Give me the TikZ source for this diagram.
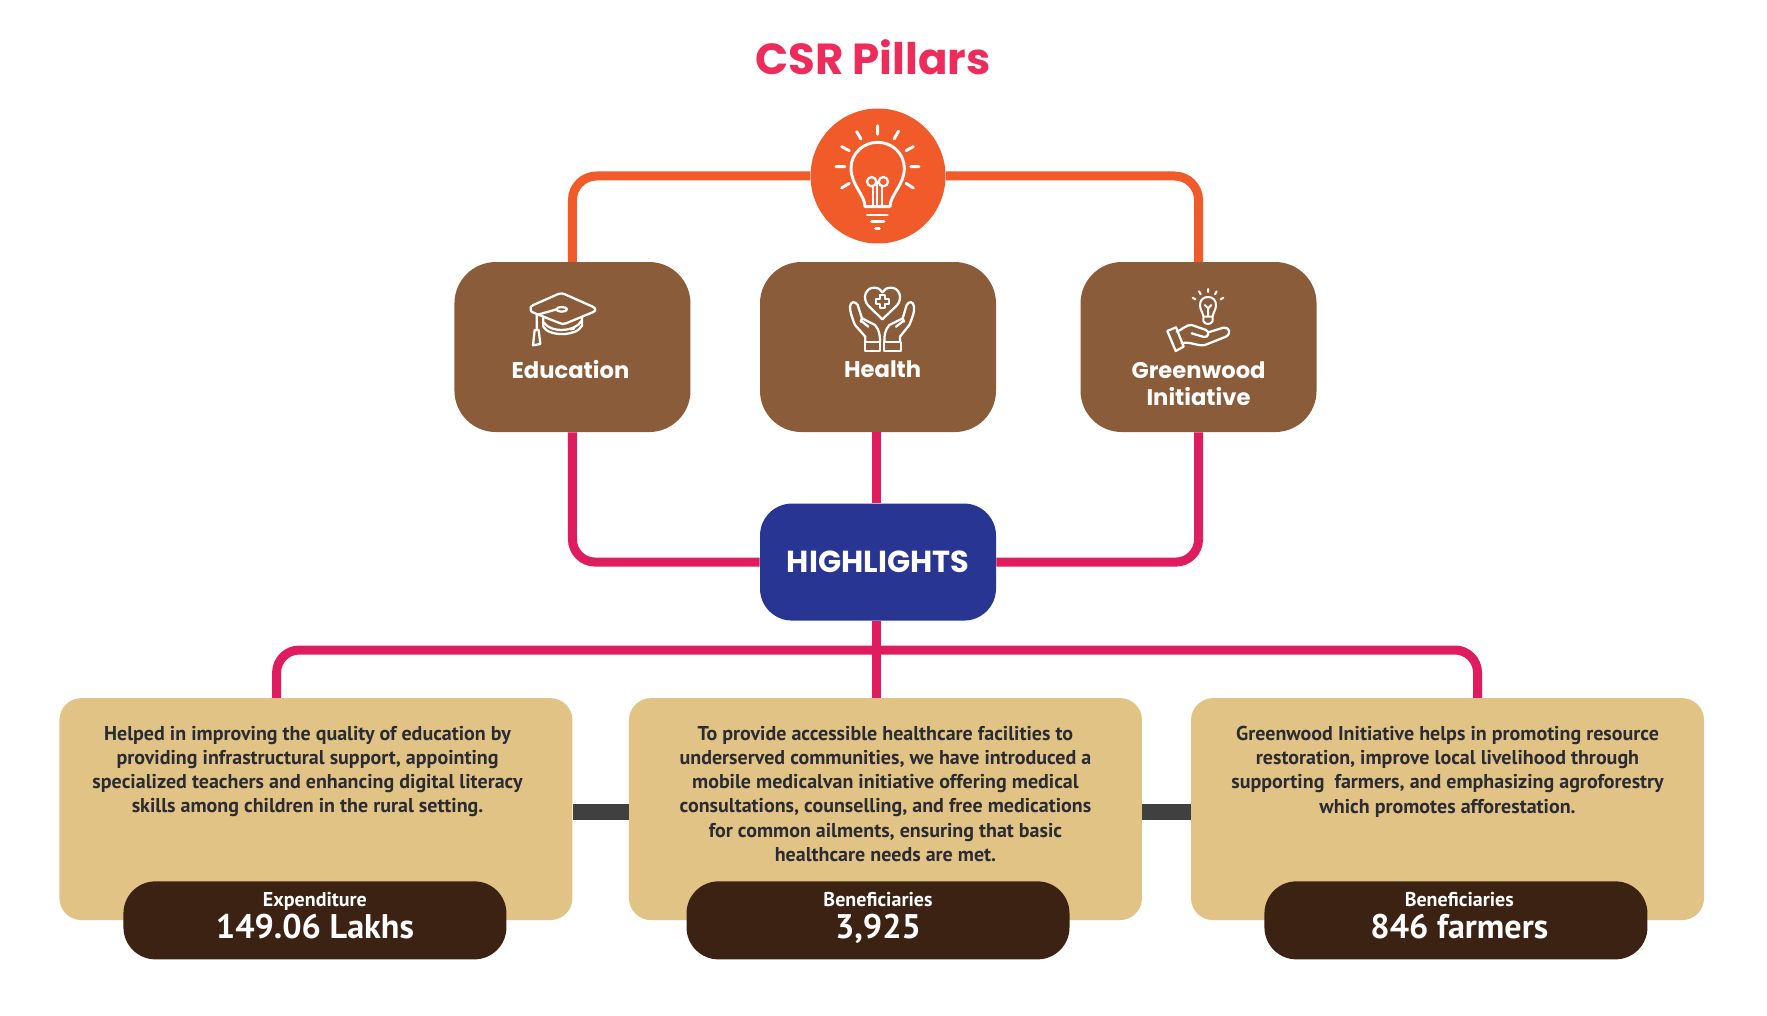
\documentclass[tikz,border=0pt]{standalone}
\usepackage{fontspec}
\setmainfont{PT Sans}
\newfontfamily\headfont{Poppins}
\usepackage{xcolor}
\usepackage{tikz}
\usetikzlibrary{positioning,calc}
\definecolor{csrtitle}{HTML}{EE2C5C}
\definecolor{csrorange}{HTML}{F15A29}
\definecolor{csrbrown}{HTML}{8A5C3A}
\definecolor{csrpink}{HTML}{DF1C5E}
\definecolor{csrnavy}{HTML}{283593}
\definecolor{csrtan}{HTML}{E1C386}
\definecolor{csrdark}{HTML}{3C2212}
\definecolor{csrgrey}{HTML}{404040}
\definecolor{csrtext}{HTML}{2B2B33}
\begin{document}
\begin{tikzpicture}[x=0.75pt,y=-0.75pt]
\tikzset{
bulbdisc/.style   = {circle, fill=csrorange, minimum size=101.25pt, inner sep=0pt},
pillar/.style     = {shape=rectangle, fill=csrbrown, rounded corners=31pt, minimum width=177pt, minimum height=127.5pt},
hub/.style        = {shape=rectangle, fill=csrnavy, rounded corners=24pt, minimum width=177pt, minimum height=87.75pt, text=white, font=\headfont\bfseries\fontsize{22.8}{26}\selectfont},
card/.style       = {shape=rectangle, fill=csrtan, rounded corners=16.5pt, minimum width=384.75pt, minimum height=166.5pt},
cardtext/.style   = {text=csrtext, align=center, inner sep=0pt, font=\bfseries\fontsize{15}{18.1}\selectfont},
pill/.style       = {shape=rectangle, fill=csrdark, rounded corners=24pt, minimum width=287.25pt, minimum height=58.5pt, inner sep=0pt},
pillcaption/.style= {text=white, inner sep=0pt, anchor=base, font=\bfseries\fontsize{15}{18}\selectfont},
pillvalue/.style  = {text=white, inner sep=0pt, anchor=base, font=\bfseries\fontsize{25.6}{30}\selectfont},
pillarlabel/.style= {text=white, align=center, inner sep=0pt, font=\headfont\bfseries\fontsize{17}{20}\selectfont},
orangeline/.style = {draw=csrorange, line width=6.75pt, rounded corners=18pt},
pinkline/.style   = {draw=csrpink, line width=6.75pt, rounded corners=17pt},
greyline/.style   = {draw=csrgrey, line width=12.5pt},
iconline/.style   = {draw=white, line width=1.7pt, line cap=round, line join=round},
bulbline/.style   = {draw=white, line width=2.2pt, line cap=round, line join=round},
thinicon/.style   = {draw=white, line width=1.5pt, line cap=round, line join=round},
}
    \useasboundingbox (0,0) rectangle (1767,1016);

    % Main nodes
    \node [text=csrtitle, inner sep=0pt, font=\headfont\bfseries\fontsize{32.6}{38}\selectfont] (title) at (873,57) {CSR Pillars};
    \node [bulbdisc]                        (bulb)       at (878,176) {};
    \node [pillar, below=13.5pt of bulb]    (health)     {};
    \node [pillar, left=51.75pt of health]  (education)  {};
    \node [pillar, right=63pt of health]    (greenwood)  {};
    \node [hub, below=53.25pt of health]    (highlights) {HIGHLIGHTS};
    \node [card, below=57.75pt of highlights, xshift=5.6pt] (healthcard) {};
    \node [card, left=42pt of healthcard]   (educard)    {};
    \node [card, right=36.4pt of healthcard] (greencard) {};

    % Labels
    \node [pillarlabel] (edulabel)    at ([xshift=-1.5pt,yshift=-17pt]education.center) {Education};
    \node [pillarlabel] (healthlabel) at ([xshift=3.5pt,yshift=-17pt]health.center) {Health};
    \node [pillarlabel, anchor=north] (greenlabel) at ([yshift=-11pt]greenwood.center) {Greenwood\\Initiative};

    \node [cardtext, anchor=north] (edutext) at ([xshift=-6.3pt,yshift=-21.2pt]educard.north) {Helped in improving the quality of education by\\providing infrastructural support, appointing\\specialized teachers and enhancing digital literacy\\skills among children in the rural setting.};
    \node [cardtext, anchor=north] (healthtext) at ([yshift=-21.2pt]healthcard.north) {To provide accessible healthcare facilities to\\underserved communities, we have introduced a\\mobile medicalvan initiative offering medical\\consultations, counselling, and free medications\\for common ailments, ensuring that basic\\healthcare needs are met.};
    \node [cardtext, anchor=north] (greentext) at ([yshift=-21.2pt]greencard.north) {Greenwood Initiative helps in promoting resource\\restoration, improve local livelihood through\\supporting~ farmers, and emphasizing agroforestry\\which promotes afforestation.};

    \node [pill] (edupill)    at ([xshift=-0.75pt]educard.south) {};
    \node [pill] (healthpill) at ([xshift=-5.6pt]healthcard.south) {};
    \node [pill] (greenpill)  at ([xshift=6.3pt]greencard.south) {};

    \node [pillcaption] (educaption)    at ([yshift=10.5pt]edupill.center) {Expenditure};
    \node [pillvalue]   (eduvalue)      at ([yshift=-13.5pt]edupill.center) {149.06 Lakhs};
    \node [pillcaption] (healthcaption) at ([yshift=10.5pt]healthpill.center) {Beneficiaries};
    \node [pillvalue]   (healthvalue)   at ([yshift=-13.5pt]healthpill.center) {3,925};
    \node [pillcaption] (greencaption)  at ([xshift=2.5pt,yshift=10.5pt]greenpill.center) {Beneficiaries};
    \node [pillvalue]   (greenvalue)    at ([xshift=2.5pt,yshift=-13.5pt]greenpill.center) {846 farmers};

    % Connector ends
    \coordinate (hubtop)   at ([xshift=-1pt]highlights.north);
    \coordinate (hubfoot)  at ([xshift=-1pt]highlights.south);
    \coordinate (healthfoot) at ([xshift=-1pt]health.south);
    \coordinate (busmid)   at (hubfoot |- 0,650);
    \coordinate (busdrop)  at (hubfoot |- healthcard.north);
    \coordinate (tapleft)  at ([xshift=-29.5pt]educard.north);
    \coordinate (tapright) at ([xshift=22.5pt]greencard.north);

    % Main edges
    \draw [orangeline] (bulb.west) -| (education.north);
    \draw [orangeline] (bulb.east) -| (greenwood.north);
    \draw [pinkline]   (education.south) |- (highlights.west);
    \draw [pinkline]   (greenwood.south) |- (highlights.east);
    \draw [pinkline]   (healthfoot) -- (hubtop);
    \draw [pinkline]   (hubfoot) -- (busdrop);
    \draw [pinkline]   (tapleft) |- (busmid) -| (tapright);
    \draw [greyline]   ([yshift=-2.25pt]educard.east) -- ([yshift=-2.25pt]healthcard.west);
    \draw [greyline]   ([yshift=-2.25pt]healthcard.east) -- ([yshift=-2.25pt]greencard.west);

    % Lightbulb icon
    \begin{scope}[shift={(780,100)}, scale=1/3]
        \draw [bulbline] (255,320) .. controls (255,285) and (213,255) .. (213,205) .. controls (213,160) and (250,127) .. (293,127) .. controls (336,127) and (373,160) .. (373,205) .. controls (373,255) and (330,285) .. (330,320) -- cycle;
        \draw [iconline] (278,320) -- (278,258) (292,320) -- (292,245) (307,320) -- (307,258);
        \draw [iconline] (275,245) circle (14) (310,245) circle (14);
        \draw [bulbline] (262,345) -- (322,345) (275,365) -- (312,365) (287,385) -- (298,385);
        \draw [bulbline] (293,77) -- (293,103) (230,95) -- (243,117) (356,93) -- (342,117) (185,140) -- (208,152) (400,140) -- (378,152) (168,200) -- (195,200) (392,200) -- (417,200) (185,264) -- (208,250) (400,264) -- (378,250);
    \end{scope}

    % Graduation cap icon
    \begin{scope}[shift={(500,280)}, scale=1/3]
        \draw [iconline] (92,90) .. controls (88,82) and (95,78) .. (100,75) -- (175,42) .. controls (182,39) and (188,40) .. (195,43) -- (278,80) .. controls (288,85) and (288,92) .. (280,96) -- (198,130) .. controls (190,133) and (185,132) .. (178,129) -- (100,98) .. controls (95,96) and (93,94) .. (92,90);
        \draw [iconline] (185,88) ellipse (16 and 7);
        \draw [iconline] (170,88) -- (110,105) -- (110,150);
        \draw [iconline] (104,150) -- (116,150) -- (121,192) -- (99,196) -- cycle;
        \draw [iconline] (130,113) -- (130,140) .. controls (145,170) and (230,170) .. (246,137) -- (246,112);
        \draw [iconline] (132,128) .. controls (150,158) and (225,158) .. (245,122);
        \draw [iconline] (212,148) -- (222,146);
    \end{scope}

    % Heart in hands icon
    \begin{scope}[shift={(820,275)}, scale=1/3]
        \draw [iconline] (187,133) -- (145,92) .. controls (125,70) and (137,38) .. (162,38) .. controls (175,38) and (183,44) .. (187,52) .. controls (192,44) and (200,38) .. (213,38) .. controls (238,38) and (250,70) .. (230,92) -- cycle;
        \draw [iconline] (179,60) -- (195,60) -- (195,72) -- (207,72) -- (207,88) -- (195,88) -- (195,100) -- (179,100) -- (179,88) -- (167,88) -- (167,72) -- (179,72) -- cycle;
        \draw [iconline] (134,200) rectangle (180,228);
        \draw [iconline] (193,200) rectangle (242,228);
        \draw [iconline] (136,200) -- (136,185) -- (105,150) .. controls (95,125) and (90,110) .. (90,95) .. controls (92,78) and (105,78) .. (113,90) -- (126,130) -- (165,150) .. controls (178,165) and (180,180) .. (180,200);
        \draw [iconline] (126,130) -- (122,140) (124,138) -- (145,155);
        \draw [iconline] (240,200) -- (240,185) -- (268,150) .. controls (278,125) and (284,110) .. (282,95) .. controls (280,78) and (267,78) .. (260,90) -- (248,130) -- (208,150) .. controls (195,165) and (193,180) .. (193,200);
        \draw [iconline] (248,130) -- (252,140) (250,138) -- (228,155);
    \end{scope}

    % Hand with bulb icon
    \begin{scope}[shift={(1140,275)}, scale=1/3]
        \draw [thinicon] (190,125) .. controls (188,110) and (180,105) .. (180,90) .. controls (180,75) and (190,66) .. (204,66) .. controls (218,66) and (228,75) .. (228,90) .. controls (228,105) and (220,110) .. (218,125) -- cycle;
        \draw [thinicon] (190,128) -- (190,138) .. controls (195,150) and (213,150) .. (218,138) -- (218,128);
        \draw [thinicon] (194,90) -- (204,100) -- (214,90) (204,100) -- (204,124);
        \draw [thinicon] (204,42) -- (204,51) (177,49) -- (182,58) (230,49) -- (225,58) (158,68) -- (166,73) (250,68) -- (242,73);
        \draw [iconline] (82,168) -- (108,157) -- (131,215) -- (107,228) -- cycle;
        \draw [iconline] (110,170) .. controls (125,165) and (140,148) .. (155,150) -- (198,165) .. controls (210,172) and (205,188) .. (192,186) -- (155,175);
        \draw [iconline] (205,172) -- (250,158) .. controls (268,155) and (275,175) .. (258,185) -- (195,210) .. controls (175,215) and (150,198) .. (125,205);
    \end{scope}
\end{tikzpicture}
\end{document}
